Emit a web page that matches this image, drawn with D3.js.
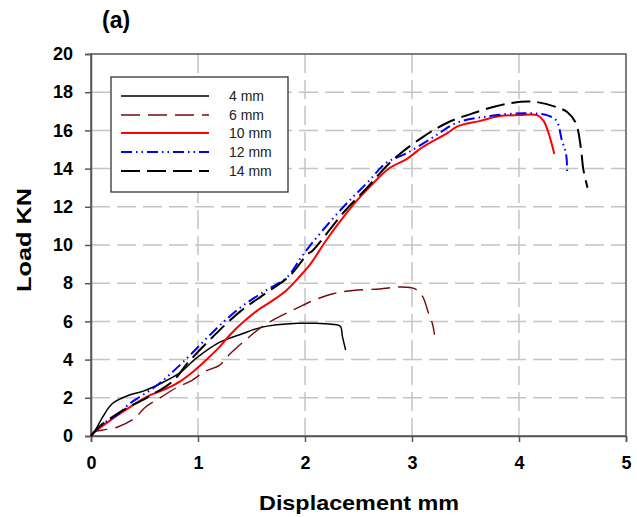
<!DOCTYPE html>
<html><head><meta charset="utf-8">
<script src="https://cdn.jsdelivr.net/npm/d3@7"></script>
<style>body{margin:0;background:#fff}svg{display:block}text{font-family:"Liberation Sans",Arial,sans-serif}</style>
</head><body>
<svg id="c" width="637" height="517"></svg>
<script>
const seriesNames = ["4 mm", "6 mm", "10 mm", "12 mm", "14 mm"];
const s4 = [[0,0],[0.05,0.4],[0.11,1.0],[0.2,1.7],[0.36,2.15],[0.49,2.35],[0.67,2.8],[0.83,3.3],[0.99,4.1],[1.2,4.9],[1.39,5.3],[1.6,5.7],[1.93,5.9],[2.08,5.9],[2.25,5.85],[2.33,5.75],[2.35,5.2],[2.38,4.5]];
const s6 = [[0,0],[0.02,0.2],[0.1,0.3],[0.25,0.47],[0.41,0.94],[0.5,1.47],[0.66,2.05],[0.79,2.5],[0.94,2.9],[1.07,3.4],[1.2,3.7],[1.3,4.3],[1.46,5.1],[1.58,5.65],[1.7,6.07],[1.89,6.6],[2.08,7.1],[2.26,7.45],[2.45,7.62],[2.7,7.7],[2.89,7.8],[3.03,7.7],[3.1,7.3],[3.15,6.5],[3.19,5.9],[3.21,5.3]];
const s10 = [[0,0],[0.02,0.15],[0.21,0.94],[0.36,1.5],[0.52,2.05],[0.71,2.5],[0.83,2.85],[0.95,3.35],[1.08,4.0],[1.2,4.65],[1.3,5.3],[1.42,5.95],[1.55,6.55],[1.7,7.1],[1.83,7.65],[1.95,8.35],[2.05,9.0],[2.2,10.26],[2.36,11.47],[2.49,12.36],[2.64,13.25],[2.79,14.03],[2.95,14.5],[3.1,15.13],[3.33,15.86],[3.42,16.2],[3.64,16.5],[3.82,16.75],[4.0,16.8],[4.17,16.8],[4.23,16.5],[4.28,15.8],[4.33,14.76]];
const s12 = [[0,0],[0.03,0.2],[0.1,0.6],[0.27,1.2],[0.34,1.6],[0.62,2.67],[0.86,3.87],[1.14,5.45],[1.39,6.7],[1.64,7.64],[1.83,8.3],[1.97,9.4],[2.11,10.4],[2.36,12.0],[2.58,13.25],[2.76,14.3],[2.95,14.8],[3.2,15.65],[3.42,16.4],[3.73,16.75],[4.05,16.9],[4.26,16.8],[4.35,16.5],[4.4,15.5],[4.44,14.76],[4.45,13.8]];
const s14 = [[0,0],[0.08,0.5],[0.3,1.36],[0.52,2.0],[0.77,2.9],[0.9,3.8],[1.14,5.2],[1.39,6.5],[1.64,7.5],[1.86,8.4],[2.02,9.5],[2.07,9.7],[2.36,11.7],[2.58,13.0],[2.82,14.45],[3.1,15.65],[3.33,16.4],[3.57,16.9],[3.89,17.4],[4.14,17.5],[4.36,17.2],[4.45,16.96],[4.53,16.4],[4.58,15.0],[4.6,14.0],[4.64,13.0]];
const xTicks = [0,1,2,3,4,5];
const yTicks = [0,2,4,6,8,10,12,14,16,18,20];

const styles = [
  {color:"#000000", width:1.5, dash:null},
  {color:"#7a0a0a", width:1.4, dash:"19,8"},
  {color:"#ff0000", width:2, dash:null},
  {color:"#0000ff", width:2, dash:"11,4,1.5,4,1.5,4"},
  {color:"#000000", width:2, dash:"19,7"}
];
const allSeries = [s4, s6, s10, s12, s14];

const svg = d3.select("#c");
const L = 91, R = 626, T = 54, B = 436;
const x = d3.scaleLinear().domain([0,5]).range([L,R]);
const y = d3.scaleLinear().domain([0,20]).range([B,T]);

// grid
const g = svg.append("g");
g.selectAll(".hg").data(yTicks.filter(v=>v>0&&v<20)).enter().append("line")
  .attr("x1",L).attr("x2",R).attr("y1",d=>y(d)).attr("y2",d=>y(d))
  .attr("stroke","#c4c4c4").attr("stroke-width",1.5).attr("stroke-dasharray","19,7");
g.selectAll(".vg").data(xTicks.filter(v=>v>0&&v<5)).enter().append("line")
  .attr("y1",T).attr("y2",B).attr("x1",d=>x(d)).attr("x2",d=>x(d))
  .attr("stroke","#c4c4c4").attr("stroke-width",1.5).attr("stroke-dasharray","19,7");

// frame
svg.append("rect").attr("x",L).attr("y",T).attr("width",R-L).attr("height",B-T)
  .attr("fill","none").attr("stroke","#555").attr("stroke-width",1.5);

// axes
const xa = svg.append("g").attr("transform",`translate(0,${B})`)
  .call(d3.axisBottom(x).tickValues(xTicks).tickSize(6).tickPadding(14).tickFormat(d3.format("d")));
const ya = svg.append("g").attr("transform",`translate(${L},0)`)
  .call(d3.axisLeft(y).tickValues(yTicks).tickSize(6).tickPadding(12).tickFormat(d3.format("d")));
[xa,ya].forEach(a=>{
  a.select(".domain").attr("stroke","#555").attr("stroke-width",1.5);
  a.selectAll(".tick line").attr("stroke","#555").attr("stroke-width",1.5);
  a.selectAll(".tick text").attr("font-size",18).attr("font-weight","bold").attr("fill","#000")
   .attr("font-family","'Liberation Sans',Arial,sans-serif");
});

// lines
const line = d3.line().x(d=>x(d[0])).y(d=>y(d[1])).curve(d3.curveCatmullRom.alpha(0.5));
allSeries.forEach((s,i)=>{
  const st = styles[i];
  svg.append("path").datum(s).attr("d",line).attr("fill","none")
    .attr("stroke",st.color).attr("stroke-width",st.width)
    .attr("stroke-dasharray",st.dash);
});

// legend
const lg = svg.append("g");
lg.append("rect").attr("x",111).attr("y",77).attr("width",177).attr("height",115)
  .attr("fill","#fff").attr("stroke","#333").attr("stroke-width",1.3);
const rowY = [96,115,133,152,171];
seriesNames.forEach((n,i)=>{
  const st = styles[i];
  lg.append("line").attr("x1",121).attr("x2",209).attr("y1",rowY[i]).attr("y2",rowY[i])
    .attr("stroke",st.color).attr("stroke-width",st.width).attr("stroke-dasharray",st.dash);
  lg.append("text").attr("x",229).attr("y",rowY[i]+5).attr("font-size",14).attr("fill","#222").text(n);
});

// titles
svg.append("text").attr("x",102).attr("y",28).attr("font-size",23).attr("font-weight","bold").text("(a)");
svg.append("text").attr("transform","translate(31,240) rotate(-90)").attr("text-anchor","middle")
  .attr("font-size",21).attr("font-weight","bold")
  .attr("textLength",104).attr("lengthAdjust","spacingAndGlyphs").text("Load KN");
svg.append("text").attr("x",359).attr("y",510).attr("text-anchor","middle")
  .attr("font-size",21).attr("font-weight","bold")
  .attr("textLength",200).attr("lengthAdjust","spacingAndGlyphs").text("Displacement mm");
</script>
</body></html>
